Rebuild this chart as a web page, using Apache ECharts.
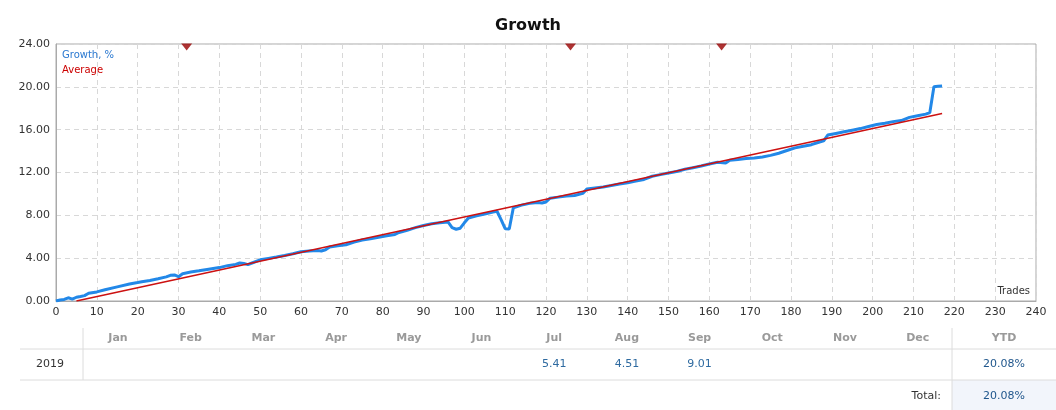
<!DOCTYPE html>
<html lang="en">
<head>
    <meta charset="UTF-8">
    <title>Growth</title>
    <style>
        body { margin: 0; background: #fff; }
        #chart { width: 1056px; height: 410px; }
    </style>
</head>
<body>
<div id="chart"></div>

<script src="https://cdn.jsdelivr.net/npm/echarts@6.0.0/dist/echarts.min.js"></script>
<script>
    // growth curve, [trade, %]
    let growth = [
        [0, 0], [1, 0.1], [2, 0.15], [3, 0.3], [4, 0.18], [5, 0.35], [6, 0.42], [7, 0.5], [8, 0.72],
        [10, 0.85], [12, 1.05], [15, 1.32], [18, 1.58], [20, 1.72], [21, 1.8], [23, 1.92], [25, 2.08],
        [27, 2.25], [28, 2.4], [29, 2.43], [30, 2.27], [31, 2.55], [33, 2.7], [35, 2.82], [37, 2.95],
        [40, 3.12], [42, 3.3], [44, 3.42], [45, 3.55], [46, 3.5], [47, 3.4], [48, 3.55], [50, 3.85],
        [52, 3.98], [54, 4.1], [56, 4.25], [58, 4.42], [60, 4.6], [62, 4.68], [64, 4.72], [65, 4.67],
        [66, 4.78], [67, 5.05], [69, 5.15], [71, 5.25], [73, 5.5], [75, 5.7], [77, 5.82], [79, 5.95],
        [81, 6.1], [83, 6.22], [84, 6.4], [86, 6.6], [88, 6.85], [90, 7.05], [92, 7.22], [94, 7.3],
        [96, 7.38], [97, 6.85], [98, 6.7], [99, 6.8], [100, 7.3], [101, 7.75], [103, 7.95], [105, 8.12],
        [107, 8.3], [108, 8.38], [109, 7.6], [110, 6.75], [111, 6.72], [112, 8.7], [114, 8.95],
        [116, 9.12], [118, 9.2], [119, 9.15], [120, 9.25], [121, 9.6], [123, 9.7], [125, 9.8],
        [127, 9.85], [129, 10.05], [130, 10.45], [132, 10.55], [134, 10.65], [136, 10.78], [138, 10.92],
        [140, 11.05], [142, 11.2], [144, 11.35], [146, 11.65], [148, 11.8], [150, 11.95], [152, 12.1],
        [154, 12.3], [156, 12.45], [158, 12.6], [160, 12.8], [162, 12.95], [164, 12.88], [165, 13.15],
        [167, 13.22], [169, 13.3], [171, 13.35], [173, 13.45], [175, 13.6], [177, 13.8], [179, 14.05],
        [181, 14.3], [183, 14.45], [185, 14.6], [187, 14.85], [188, 14.95], [189, 15.5], [191, 15.65],
        [193, 15.8], [195, 15.95], [197, 16.1], [199, 16.3], [201, 16.48], [203, 16.6], [205, 16.75],
        [207, 16.85], [209, 17.15], [211, 17.3], [213, 17.45], [214, 17.6], [215, 20.0], [216, 20.05],
        [217, 20.08]
    ];
    let average = [[5, 0], [217, 17.5]];
    let markerTrades = [32, 126, 163];

    let months = ['Jan', 'Feb', 'Mar', 'Apr', 'May', 'Jun', 'Jul', 'Aug', 'Sep', 'Oct', 'Nov', 'Dec'];
    let monthly2019 = [null, null, null, null, null, null, 5.41, 4.51, 9.01, null, null, null];
    let year = '2019';
    let ytd = '20.08%';
    let total = '20.08%';

    let font = 'DejaVu Sans';
    let chart = echarts.init(document.getElementById('chart'));

    // table under the chart
    let table = [];
    let colX = m => 118 + m * 72.7;
    table.push({ type: 'rect', shape: { x: 952, y: 380, width: 104, height: 30 }, style: { fill: '#f2f5fb' } });
    [349, 380].forEach(y => table.push({
        type: 'line', shape: { x1: 20, y1: y, x2: 1056, y2: y }, style: { stroke: '#dcdcdc', lineWidth: 1 }
    }));
    table.push({ type: 'line', shape: { x1: 83, y1: 328, x2: 83, y2: 380 }, style: { stroke: '#dcdcdc', lineWidth: 1 } });
    table.push({ type: 'line', shape: { x1: 952, y1: 328, x2: 952, y2: 410 }, style: { stroke: '#dcdcdc', lineWidth: 1 } });
    months.forEach((m, i) => {
        table.push({
            type: 'text', x: colX(i), y: 338,
            style: { text: m, fill: '#9a9a9a', font: 'bold 11px ' + font, align: 'center', verticalAlign: 'middle' }
        });
        if (monthly2019[i] != null) {
            table.push({
                type: 'text', x: colX(i), y: 364,
                style: { text: monthly2019[i].toFixed(2), fill: '#2e6aa0', font: '11px ' + font, align: 'center', verticalAlign: 'middle' }
            });
        }
    });
    table.push({ type: 'text', x: 1004, y: 338, style: { text: 'YTD', fill: '#9a9a9a', font: 'bold 11px ' + font, align: 'center', verticalAlign: 'middle' } });
    table.push({ type: 'text', x: 50, y: 364, style: { text: year, fill: '#333', font: '11px ' + font, align: 'center', verticalAlign: 'middle' } });
    table.push({ type: 'text', x: 1004, y: 364, style: { text: ytd, fill: '#1f568c', font: '11px ' + font, align: 'center', verticalAlign: 'middle' } });
    table.push({ type: 'text', x: 941, y: 396, style: { text: 'Total:', fill: '#333', font: '11px ' + font, align: 'right', verticalAlign: 'middle' } });
    table.push({ type: 'text', x: 1004, y: 396, style: { text: total, fill: '#1f568c', font: '11px ' + font, align: 'center', verticalAlign: 'middle' } });
    table.push({ type: 'text', x: 1030, y: 291, style: { text: 'Trades', fill: '#333', font: '10px ' + font, align: 'right', verticalAlign: 'middle' } });

    let option = {
        animation: false,
        textStyle: { fontFamily: font },
        title: {
            text: 'Growth',
            left: 'center',
            top: 13,
            textStyle: { fontSize: 16, fontWeight: 'bold', color: '#111', fontFamily: font }
        },
        legend: {
            data: [
                { name: 'Growth, %', textStyle: { color: '#2a78d0' } },
                { name: 'Average', textStyle: { color: '#cc0000' } }
            ],
            orient: 'vertical',
            left: 57,
            top: 50,
            icon: 'none',
            itemWidth: 0,
            itemHeight: 10,
            itemGap: 5,
            padding: 0,
            textStyle: { fontSize: 10, fontFamily: font }
        },
        grid: { left: 56, right: 20, top: 44, bottom: 109, show: true, borderColor: '#aaa', borderWidth: 1 },
        xAxis: {
            type: 'value', min: 0, max: 240, interval: 10,
            axisLine: { lineStyle: { color: '#aaa' } },
            axisTick: { show: false },
            axisLabel: { color: '#333', fontSize: 11, margin: 6 },
            splitLine: { lineStyle: { color: '#d8d8d8', type: [5, 4] } }
        },
        yAxis: {
            type: 'value', min: 0, max: 24, interval: 4,
            axisLine: { show: true, lineStyle: { color: '#aaa' } },
            axisTick: { show: false },
            axisLabel: { color: '#333', fontSize: 11, margin: 6, formatter: v => v.toFixed(2) },
            splitLine: { lineStyle: { color: '#d8d8d8', type: [5, 4] } }
        },
        graphic: table,
        series: [
            {
                name: 'Growth, %', type: 'line', data: growth, showSymbol: false,
                lineStyle: { color: '#2288e8', width: 3 }, itemStyle: { color: '#2288e8' }
            },
            {
                name: 'Average', type: 'line', data: average, showSymbol: false,
                lineStyle: { color: '#cc1111', width: 1.5 }, itemStyle: { color: '#cc1111' }
            },
            {
                name: 'markers', type: 'scatter', clip: false,
                data: markerTrades.map(t => [t, 24]),
                symbol: 'triangle', symbolRotate: 180, symbolSize: [11, 7], symbolOffset: [0, 3],
                itemStyle: { color: '#990000' }
            }
        ]
    };

    chart.setOption(option);
</script>
</body>
</html>
